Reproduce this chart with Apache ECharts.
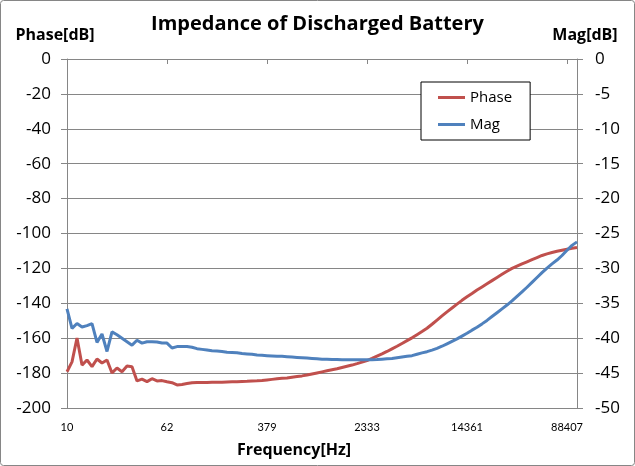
<!DOCTYPE html>
<html>
<head>
<meta charset="utf-8">
<script src="https://cdn.jsdelivr.net/npm/echarts@6/dist/echarts.min.js"></script>
<style>
html,body{margin:0;padding:0;background:#fff;}
#c{width:635px;height:466px;}
</style>
</head>
<body>
<div id="c"></div>
<script>
// Frequency categories [Hz] (log-spaced); labels every 20th point
const frequencies = [
  10, 10.95, 11.99, 13.13, 14.38, 15.75, 17.25, 18.89, 20.69, 22.66,
  24.81, 27.17, 29.76, 32.59, 35.69, 39.08, 42.80, 46.87, 51.33, 56.21,
  62, 67.4, 73.8, 80.9, 88.5, 97.0, 106, 116, 127, 139,
  153, 167, 183, 201, 220, 241, 263, 289, 316, 346,
  379, 415, 455, 498, 545, 597, 654, 716, 784, 859,
  940, 1030, 1128, 1235, 1353, 1481, 1622, 1776, 1945, 2130,
  2333, 2555, 2798, 3064, 3356, 3675, 4024, 4407, 4827, 5286,
  5788, 6339, 6942, 7603, 8326, 9118, 9985, 10935, 11975, 13114,
  14361, 15727, 17223, 18862, 20656, 22620, 24773, 27129, 29710, 32537,
  35631, 39021, 42733, 46798, 51250, 56126, 61465, 67313, 73715, 80728,
  88407, 96815, 106026
];
// Phase [dB] (left axis)
const phase = [
  -179.2, -173.6, -159.9, -175.4, -172.5, -176.3, -171.9, -174.2, -172.5, -179.9,
  -177.1, -179.2, -175.9, -176.3, -184.5, -183.5, -184.9, -183.2, -184.5, -184.3,
  -185.0, -185.5, -186.8, -186.5, -186.0, -185.5, -185.4, -185.4, -185.4, -185.3,
  -185.3, -185.2, -185.1, -185.0, -184.9, -184.8, -184.7, -184.5, -184.4, -184.2,
  -183.9, -183.6, -183.3, -183.0, -182.8, -182.4, -182.0, -181.6, -181.1, -180.5,
  -179.9, -179.3, -178.7, -178.1, -177.5, -176.8, -176.1, -175.4, -174.6, -173.7,
  -172.8, -171.6, -170.3, -169.0, -167.6, -166.1, -164.6, -163.0, -161.4, -159.8,
  -158.0, -156.2, -154.3, -152.0, -149.6, -147.2, -144.9, -142.7, -140.5, -138.3,
  -136.3, -134.4, -132.4, -130.6, -128.8, -127.0, -125.2, -123.4, -121.6, -120.0,
  -118.7, -117.4, -116.2, -115.0, -113.8, -112.6, -111.7, -110.9, -110.2, -109.6,
  -109.0, -108.5, -108.0
];
// Mag [dB] (right axis)
const mag = [
  -35.8, -38.6, -37.9, -38.4, -38.2, -37.9, -40.6, -39.4, -41.9, -39.1,
  -39.5, -40.0, -40.5, -41.0, -40.3, -40.7, -40.5, -40.5, -40.55, -40.7,
  -40.7, -41.4, -41.2, -41.2, -41.2, -41.3, -41.5, -41.6, -41.7, -41.8,
  -41.85, -41.9, -42.0, -42.05, -42.1, -42.2, -42.25, -42.3, -42.4, -42.45,
  -42.5, -42.55, -42.6, -42.6, -42.65, -42.7, -42.75, -42.8, -42.85, -42.9,
  -42.95, -43.0, -43.0, -43.05, -43.05, -43.1, -43.1, -43.1, -43.1, -43.1,
  -43.1, -43.08, -43.05, -43.0, -42.95, -42.9, -42.8, -42.7, -42.6, -42.5,
  -42.3, -42.1, -41.93, -41.7, -41.45, -41.15, -40.8, -40.45, -40.1, -39.7,
  -39.3, -38.85, -38.44, -37.95, -37.45, -36.9, -36.35, -35.8, -35.25, -34.65,
  -34.0, -33.35, -32.7, -32.0, -31.3, -30.6, -29.95, -29.35, -28.8, -28.15,
  -27.4, -26.7, -26.2
];
const labelEvery = 20;
const phaseTicks = { min: -200, max: 0, interval: 20 };
const magTicks = { min: -50, max: 0, interval: 5 };

const FONT = '"Open Sans", Lato, sans-serif';
const GRAY = '#868686';
const chart = echarts.init(document.getElementById('c'), null, { renderer: 'canvas' });
chart.setOption({
  animation: false,
  backgroundColor: '#fff',
  graphic: [{
    type: 'rect', shape: { x: 0.5, y: 0.5, width: 634, height: 465, r: 3 },
    style: { fill: 'none', stroke: GRAY, lineWidth: 1 }, silent: true
  }],
  title: {
    text: 'Impedance of Discharged Battery',
    left: 'center', top: 9,
    textStyle: { fontFamily: FONT, fontSize: 20, fontWeight: 'bold', color: '#000' }
  },
  legend: {
    orient: 'vertical', left: 421, top: 82,
    padding: [8, 18, 8, 17], itemGap: 12,
    backgroundColor: '#fff', borderColor: '#000', borderWidth: 1,
    itemWidth: 27, itemHeight: 3, icon: 'rect',
    textStyle: { fontFamily: FONT, fontSize: 15, color: '#000' },
    data: ['Phase', 'Mag']
  },
  grid: { left: 67, right: 58, top: 59, bottom: 58, containLabel: false },
  xAxis: {
    type: 'category', data: frequencies, boundaryGap: false,
    name: 'Frequency[Hz]', nameLocation: 'middle', nameGap: 34,
    nameTextStyle: { fontFamily: FONT, fontSize: 16, fontWeight: 'bold', color: '#000', padding: [0, 56, 0, 0] },
    axisLine: { lineStyle: { color: GRAY, width: 1 } },
    axisTick: { show: true, interval: labelEvery - 1, length: 5, lineStyle: { color: GRAY } },
    axisLabel: { interval: labelEvery - 1, margin: 14, fontFamily: 'Lato, sans-serif', fontSize: 11, color: '#000' },
    splitLine: { show: false }
  },
  yAxis: [{
    type: 'value', position: 'left',
    min: phaseTicks.min, max: phaseTicks.max, interval: phaseTicks.interval,
    name: 'Phase[dB]', nameLocation: 'end', nameGap: 16,
    nameTextStyle: { fontFamily: FONT, fontSize: 16, fontWeight: 'bold', color: '#000', align: 'center', padding: [0, 24, 0, 0] },
    axisLine: { show: true, lineStyle: { color: GRAY, width: 1 } },
    axisTick: { show: true, length: 6, lineStyle: { color: GRAY } },
    axisLabel: { margin: 16, fontFamily: FONT, fontSize: 17, color: '#000' },
    splitLine: { show: true, lineStyle: { color: GRAY, width: 1 } }
  }, {
    type: 'value', position: 'right',
    min: magTicks.min, max: magTicks.max, interval: magTicks.interval,
    name: 'Mag[dB]', nameLocation: 'end', nameGap: 16,
    nameTextStyle: { fontFamily: FONT, fontSize: 16, fontWeight: 'bold', color: '#000', align: 'center', padding: [0, 0, 0, 16] },
    axisLine: { show: true, lineStyle: { color: GRAY, width: 1 } },
    axisTick: { show: true, length: 6, lineStyle: { color: GRAY } },
    axisLabel: { margin: 18, fontFamily: FONT, fontSize: 17, color: '#000' },
    splitLine: { show: false }
  }],
  series: [{
    name: 'Phase', type: 'line', yAxisIndex: 0, data: phase,
    showSymbol: false, symbol: 'none', smooth: false,
    lineStyle: { color: '#C0504D', width: 3 }, itemStyle: { color: '#C0504D' }
  }, {
    name: 'Mag', type: 'line', yAxisIndex: 1, data: mag,
    showSymbol: false, symbol: 'none', smooth: false,
    lineStyle: { color: '#4F81BD', width: 3 }, itemStyle: { color: '#4F81BD' }
  }]
});
</script>
</body>
</html>
